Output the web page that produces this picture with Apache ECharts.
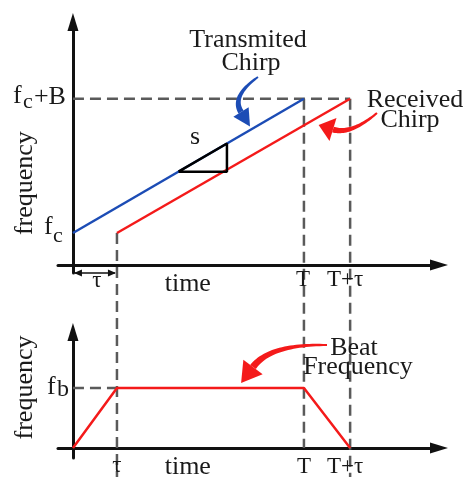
<!DOCTYPE html>
<html><head><meta charset="utf-8">
<script src="https://cdn.jsdelivr.net/npm/echarts@6/dist/echarts.min.js"></script>
<style>html,body{margin:0;padding:0;background:#fff}#c{width:467px;height:479px}</style>
</head><body><div id="c"></div>
<script>
// ---- data ----
const tickLabels = ['τ', 'T', 'T+τ'];
const tickTimes = [1, 5.25, 6.3];
const txTime = [0, 5.25];
const txFreq = [1, 5.2];
const rxTime = [1, 6.3];
const rxFreq = [1, 5.2];
const beatTime = [0, 1, 5.25, 6.3];
const beatFreq = [0, 2, 2, 0];
const slopeTime = [2.4, 3.5, 3.5, 2.4];
const slopeFreq = [2.92, 2.92, 3.8, 2.92];
const fcValue = 1, fcBValue = 5.2, fbValue = 2;

const FONT = '"Liberation Serif", "Times New Roman", serif';
const TXT = '#1a1a1a';
const BLUE = '#1c4cb5';
const RED = '#f41a1a';
const chart = echarts.init(document.getElementById('c'), null, {renderer: 'canvas'});
const zip = (a, b) => a.map((v, i) => [v, b[i]]);
const axisLine = {show: true, onZero: true, symbol: ['none', 'triangle'], symbolSize: [11, 18],
  lineStyle: {color: '#111', width: 3}};
function axis(min, max, gi) {
  return {type: 'value', gridIndex: gi, min, max, axisLine,
    axisTick: {show: false}, axisLabel: {show: false}, splitLine: {show: false}};
}
const dashStyle = {color: '#5a5a5a', width: 2.5, type: [11, 6]};
function lineSeries(gi, data, style, z) {
  return {type: 'line', xAxisIndex: gi, yAxisIndex: gi, data, symbol: 'none',
    lineStyle: style, z: z || 3, silent: true, clip: false};
}
chart.setOption({
  animation: false,
  grid: [
    {left: 58, right: 28, top: 22, bottom: 206, containLabel: false, outerBoundsMode: 'none'},
    {left: 58, right: 28, top: 332, bottom: 21, containLabel: false, outerBoundsMode: 'none'}
  ],
  xAxis: [axis(-0.34, 8.32, 0), axis(-0.34, 8.32, 1)],
  yAxis: [axis(-0.25, 7.6, 0), axis(-0.33, 3.87, 1)],
  series: [
    lineSeries(0, [[0, fcBValue], [tickTimes[2], fcBValue]], dashStyle, 2),
    lineSeries(0, zip(txTime, txFreq), {color: BLUE, width: 2.5}),
    lineSeries(0, zip(rxTime, rxFreq), {color: RED, width: 2.5}),
    lineSeries(0, zip(slopeTime, slopeFreq), {color: '#000', width: 2.5}, 4),
    lineSeries(1, [[0, fbValue], [tickTimes[0], fbValue]], dashStyle, 2),
    lineSeries(1, zip(beatTime, beatFreq), {color: RED, width: 2.5})
  ]
});

const p0 = (x, y) => chart.convertToPixel({gridIndex: 0}, [x, y]);
const p1 = (x, y) => chart.convertToPixel({gridIndex: 1}, [x, y]);
const g = [];
function txt(x, y, s, size, align, extra) {
  return Object.assign({type: 'text', x, y, z: 100, silent: true,
    style: {text: s, font: size + 'px ' + FONT, fill: TXT,
      align: align || 'center', textAlign: align || 'center',
      verticalAlign: 'middle', textVerticalAlign: 'middle'}}, extra || {});
}
function dline(a, b) {
  return {type: 'line', z: 1, silent: true, shape: {x1: a[0], y1: a[1], x2: b[0], y2: b[1]},
    style: {stroke: '#5a5a5a', lineWidth: 2.5, lineDash: [11, 6]}};
}
// vertical dashed guides spanning both panels
const bottomY = p1(0, 0)[1] + 29;
g.push(dline(p0(tickTimes[0], fcValue), [p0(tickTimes[0], 0)[0], bottomY]));
g.push(dline(p0(tickTimes[1], fcBValue), p1(tickTimes[1], 0)));
g.push(dline(p0(tickTimes[2], fcBValue), [p0(tickTimes[2], 0)[0], bottomY]));

// tau double arrow
const o0 = p0(0, 0), t0 = p0(tickTimes[0], 0);
const ay = o0[1] + 8;
g.push({type: 'line', z: 5, shape: {x1: o0[0] + 2, y1: ay, x2: t0[0] - 2, y2: ay}, style: {stroke: '#111', lineWidth: 1.6}});
g.push({type: 'polygon', z: 5, shape: {points: [[o0[0] + 1, ay], [o0[0] + 9, ay - 3.5], [o0[0] + 9, ay + 3.5]]}, style: {fill: '#111'}});
g.push({type: 'polygon', z: 5, shape: {points: [[t0[0] - 1, ay], [t0[0] - 9, ay - 3.5], [t0[0] - 9, ay + 3.5]]}, style: {fill: '#111'}});
g.push(txt((o0[0] + t0[0]) / 2 + 2, ay + 8, tickLabels[0], 23));

// top tick labels
const tT = p0(tickTimes[1], 0), tTT = p0(tickTimes[2], 0);
g.push(txt(tT[0] - 1, tT[1] + 15, tickLabels[1], 23));
g.push(txt(tTT[0] - 5, tTT[1] + 15, tickLabels[2], 23));
// bottom tick labels
const b1 = p1(tickTimes[0], 0), bT = p1(tickTimes[1], 0), bTT = p1(tickTimes[2], 0);
g.push(txt(b1[0], b1[1] + 18, tickLabels[0], 23));
g.push(txt(bT[0], bT[1] + 19, tickLabels[1], 23));
g.push(txt(bTT[0] - 5, bTT[1] + 19, tickLabels[2], 23));
// time labels
const tm0 = p0(2.61, 0), tm1 = p1(2.61, 0);
g.push(txt(tm0[0], tm0[1] + 19, 'time', 26));
g.push(txt(tm1[0], tm1[1] + 19, 'time', 26));
// frequency rotated labels
const fr0 = p0(0, 2.56), fr1 = p1(0, 2.02);
g.push(txt(fr0[0] - 48, fr0[1], 'frequency', 26, 'center', {rotation: Math.PI / 2}));
g.push(txt(fr1[0] - 48, fr1[1], 'frequency', 26, 'center', {rotation: Math.PI / 2}));
// fc+B
const fb = p0(0, fcBValue);
g.push(txt(fb[0] - 60, fb[1] - 3, 'f', 26, 'left'));
g.push(txt(fb[0] - 50, fb[1] + 3, 'c', 22, 'left'));
g.push(txt(fb[0] - 39, fb[1] - 2, '+B', 26, 'left'));
// fc
const fcp = p0(0, fcValue);
g.push(txt(fcp[0] - 29, fcp[1] - 6, 'f', 26, 'left'));
g.push(txt(fcp[0] - 20, fcp[1] + 3, 'c', 22, 'left'));
// fb
const fbp = p1(0, fbValue);
g.push(txt(fbp[0] - 26, fbp[1] - 1, 'f', 26, 'left'));
g.push(txt(fbp[0] - 16, fbp[1] + 2, 'b', 24, 'left'));
// slope label
g.push(txt(195, 137, 's', 26));
// annotations
g.push(txt(248, 40, 'Transmited', 26));
g.push(txt(251, 63, 'Chirp', 26));
g.push(txt(415, 100, 'Received', 26));
g.push(txt(410, 120, 'Chirp', 26));
g.push(txt(354, 348, 'Beat', 26));
g.push(txt(358, 367, 'Frequency', 26));

function curvedArrow(P0, C, P1, w0, w1, headLen, headHalf, color) {
  const N = 30, L = [], R = [];
  for (let i = 0; i <= N; i++) {
    const t = i / N, u = 1 - t;
    const x = u * u * P0[0] + 2 * u * t * C[0] + t * t * P1[0];
    const y = u * u * P0[1] + 2 * u * t * C[1] + t * t * P1[1];
    let tx = 2 * u * (C[0] - P0[0]) + 2 * t * (P1[0] - C[0]);
    let ty = 2 * u * (C[1] - P0[1]) + 2 * t * (P1[1] - C[1]);
    const n = Math.hypot(tx, ty); tx /= n; ty /= n;
    const w = (w0 + (w1 - w0) * t) / 2;
    L.push([x - ty * w, y + tx * w]);
    R.push([x + ty * w, y - tx * w]);
  }
  let dx = P1[0] - C[0], dy = P1[1] - C[1];
  const d = Math.hypot(dx, dy); dx /= d; dy /= d;
  const tip = [P1[0] + dx * headLen, P1[1] + dy * headLen];
  const wa = [P1[0] - dy * headHalf, P1[1] + dx * headHalf];
  const wb = [P1[0] + dy * headHalf, P1[1] - dx * headHalf];
  return [
    {type: 'polygon', z: 50, shape: {points: L.concat(R.reverse())}, style: {fill: color}},
    {type: 'polygon', z: 50, shape: {points: [tip, wa, wb]}, style: {fill: color}}
  ];
}
g.push(...curvedArrow([258, 77], [231, 96], [241, 112], 2, 6, 17, 9, BLUE));
g.push(...curvedArrow([377, 113], [351, 135], [333, 129.5], 2, 6, 15, 12, RED));
g.push(...curvedArrow([327, 345], [270, 344], [253, 367], 2, 7, 20, 12, RED));

chart.setOption({graphic: {elements: g}});
</script>
</body></html>
